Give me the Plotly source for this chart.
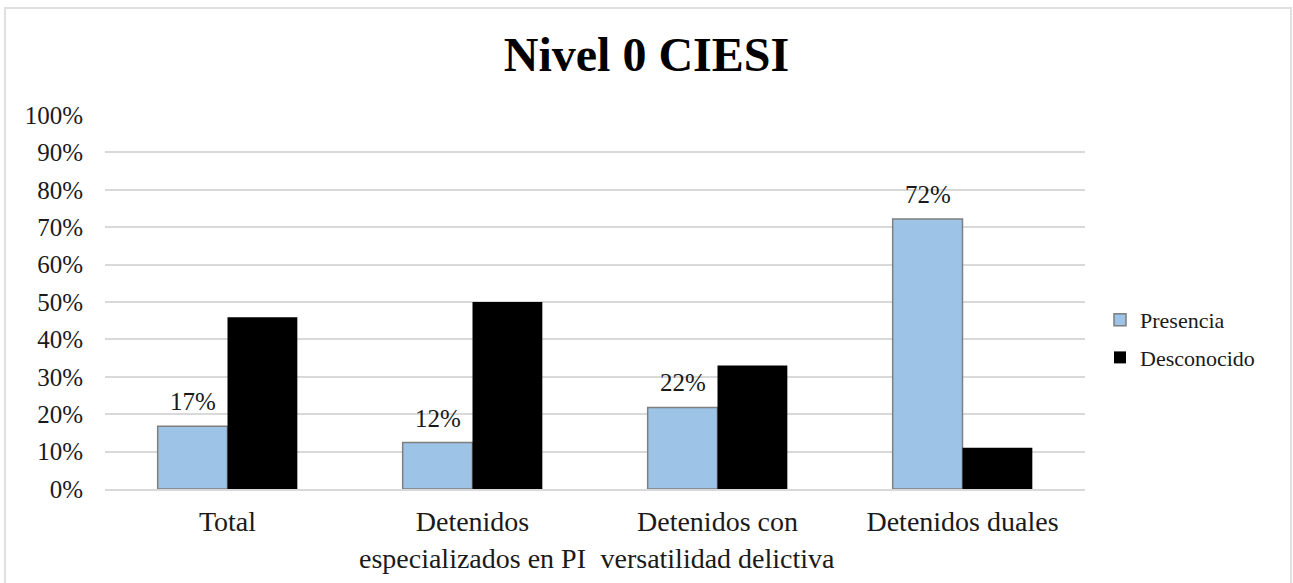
import plotly.graph_objects as go

categories = ["Total", "Detenidos<br>especializados en PI", "Detenidos con<br>versatilidad delictiva", "Detenidos duales"]
presencia = [0.168, 0.124, 0.218, 0.722]
desconocido = [0.459, 0.50, 0.33, 0.11]
y_ticks = [0, 0.1, 0.2, 0.3, 0.4, 0.5, 0.6, 0.7, 0.8, 0.9, 1.0]
y_tick_labels = ["0%", "10%", "20%", "30%", "40%", "50%", "60%", "70%", "80%", "90%", "100%"]

FONT = "Liberation Serif"
TXT = "#1a1a1a"

fig = go.Figure()
fig.add_trace(go.Bar(
    x=categories, y=presencia, name="Presencia", legendgroup="a",
    marker=dict(color="#9DC3E6", line=dict(color="#7f7f7f", width=1.5)),
))
fig.add_trace(go.Bar(
    x=categories, y=desconocido, name="Desconocido", legendgroup="b",
    marker=dict(color="#000000", line=dict(color="#000000", width=0)),
))

for c, v in zip(categories, presencia):
    fig.add_annotation(x=c, y=v, text=f"{v:.0%}", showarrow=False,
                       xanchor="center", yanchor="bottom", xshift=-35, yshift=9,
                       font=dict(family=FONT, size=25, color=TXT))

L, R, T, B = 105, 1085, 115, 489
W, H = 1293, 583
def px(xp):
    return (xp - L) / (R - L)
def py(yp):
    return (B - yp) / (B - T)

fig.update_layout(
    width=W, height=H,
    paper_bgcolor="white", plot_bgcolor="white",
    margin=dict(l=L, r=W - R, t=T, b=H - B, autoexpand=False),
    barmode="group", bargap=0.43, bargroupgap=0,
    title=dict(text="<b>Nivel 0 CIESI</b>", x=0.5, xanchor="center", y=1 - 54 / H, yanchor="middle",
               font=dict(family=FONT, size=48, color="#000000")),
    font=dict(family=FONT, color=TXT),
    xaxis=dict(showgrid=False, showline=True, linecolor="#d9d9d9", linewidth=1.5,
               ticks="", ticklabelstandoff=7, tickfont=dict(family=FONT, size=28, color=TXT)),
    yaxis=dict(range=[0, 1.0], tickvals=y_ticks, ticktext=y_tick_labels,
               showgrid=True, gridcolor="#d9d9d9", gridwidth=1.5, zeroline=False,
               showline=False, ticks="", ticklabelstandoff=21,
               tickfont=dict(family=FONT, size=25, color=TXT)),
    legend=dict(x=px(1100), y=py(339), xanchor="left", yanchor="middle",
                font=dict(family=FONT, size=22, color=TXT),
                itemwidth=30, tracegroupgap=6, bgcolor="rgba(0,0,0,0)"),
    shapes=[dict(type="rect", xref="paper", yref="paper",
                 x0=px(5), x1=px(1291), y0=py(590), y1=py(8),
                 line=dict(color="#e0e0e0", width=2), fillcolor="rgba(0,0,0,0)", layer="below")],
)

fig.write_html("out.html", config={"displayModeBar": False},
               post_script="document.body.style.margin='0';document.body.style.overflow='hidden';")
